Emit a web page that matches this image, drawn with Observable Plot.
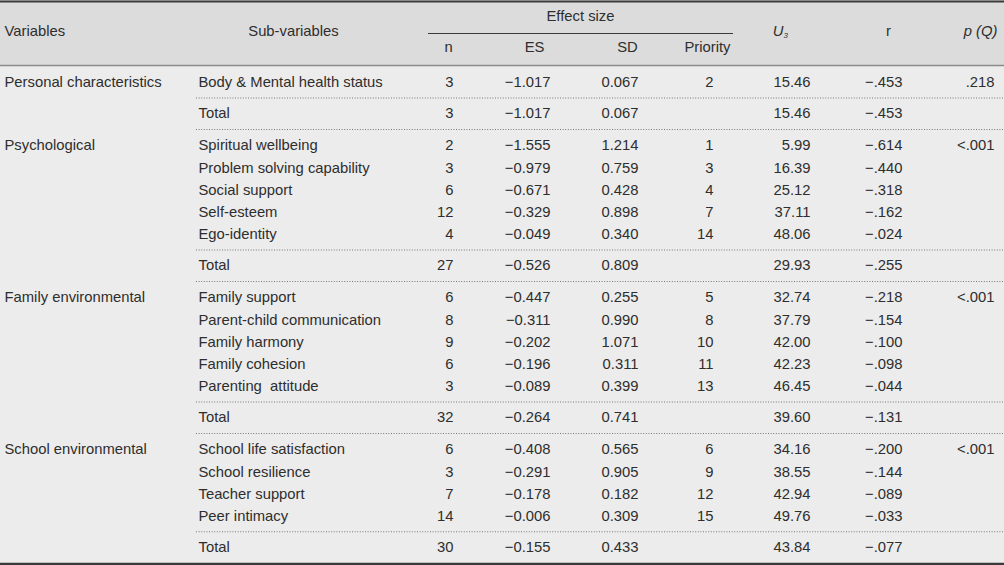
<!DOCTYPE html>
<html>
<head>
<meta charset="utf-8">
<script src="https://cdn.jsdelivr.net/npm/d3@7"></script>
<script src="https://cdn.jsdelivr.net/npm/@observablehq/plot@0.6"></script>
<style>
  html, body { margin: 0; padding: 0; background: #ececec; }
  svg { display: block; }
</style>
</head>
<body>
<div id="chart"></div>
<script>
// ---------- DATA ----------
const groups = ["Personal characteristics", "Psychological", "Family environmental", "School environmental"];
const groupP = [".218", "<.001", "<.001", "<.001"];
const subVariables = [
  "Body & Mental health status", "Total",
  "Spiritual wellbeing", "Problem solving capability", "Social support", "Self-esteem", "Ego-identity", "Total",
  "Family support", "Parent-child communication", "Family harmony", "Family cohesion", "Parenting  attitude", "Total",
  "School life satisfaction", "School resilience", "Teacher support", "Peer intimacy", "Total"
];
const rowGroup = [0,0, 1,1,1,1,1,1, 2,2,2,2,2,2, 3,3,3,3,3];
const nValues = [3,3, 2,3,6,12,4,27, 6,8,9,6,3,32, 6,3,7,14,30];
const esValues = [-1.017,-1.017, -1.555,-0.979,-0.671,-0.329,-0.049,-0.526, -0.447,-0.311,-0.202,-0.196,-0.089,-0.264, -0.408,-0.291,-0.178,-0.006,-0.155];
const sdValues = [0.067,0.067, 1.214,0.759,0.428,0.898,0.340,0.809, 0.255,0.990,1.071,0.311,0.399,0.741, 0.565,0.905,0.182,0.309,0.433];
const priorityValues = [2,null, 1,3,4,7,14,null, 5,8,10,11,13,null, 6,9,12,15,null];
const u3Values = [15.46,15.46, 5.99,16.39,25.12,37.11,48.06,29.93, 32.74,37.79,42.00,42.23,46.45,39.60, 34.16,38.55,42.94,49.76,43.84];
const rValues = [-0.453,-0.453, -0.614,-0.440,-0.318,-0.162,-0.024,-0.255, -0.218,-0.154,-0.100,-0.098,-0.044,-0.131, -0.200,-0.144,-0.089,-0.033,-0.077];
const headerTop = ["Effect size"];
const headerMain = ["Variables", "Sub-variables", "r"];
const headerSub = ["n", "ES", "SD", "Priority"];

// ---------- LAYOUT ----------
const W = 1004, H = 565;
const headerBottom = 65;
const firstRowY = 82, rowStep = 22.25, toTotal = 31, afterTotal = 32;
const col = {var: 4, sub: 198, n: 453, es: 550, sd: 638, pr: 713, u3: 810, r: 902, p: 994};
const headerMainX = [null, 293, 888];
const headerSubX = [448, 534, 627, 707];

// compute row y positions
const rowY = [];
let yy = firstRowY;
subVariables.forEach((s, i) => {
  if (i > 0) {
    if (s === "Total") yy += toTotal;
    else if (subVariables[i - 1] === "Total") yy += afterTotal;
    else yy += rowStep;
  }
  rowY.push(yy);
});

const minus = "\u2212";
const f3 = d3.format(".3f"), f2 = d3.format(".2f");
const fmtSigned = v => (v < 0 ? minus : "") + f3(Math.abs(v));
const fmtR = v => (v < 0 ? minus : "") + f3(Math.abs(v)).replace(/^0/, "");

const rows = subVariables.map((s, i) => ({
  sub: s, y: rowY[i], g: rowGroup[i],
  n: String(nValues[i]), es: fmtSigned(esValues[i]), sd: f3(sdValues[i]),
  pr: priorityValues[i] == null ? "" : String(priorityValues[i]),
  u3: f2(u3Values[i]), r: fmtR(rValues[i])
}));
const groupRows = groups.map((g, k) => {
  const i = rowGroup.indexOf(k);
  return {name: g, p: groupP[k], y: rowY[i]};
});
const dotted = [];
rows.forEach((r, i) => {
  if (r.sub === "Total") {
    dotted.push({y: (rows[i - 1].y + r.y) / 2});
    if (i < rows.length - 1) dotted.push({y: (r.y + rows[i + 1].y) / 2});
  }
});

const fontFamily = "'Liberation Sans', Arial, sans-serif";
const fs = 14.8;
const ink = "#2e2e2e";

const txt = (data, key, x, anchor, extra = {}) =>
  Plot.text(data, {x: () => x, y: "y", text: key, textAnchor: anchor, fill: ink, fontSize: fs, ...extra});

const chart = Plot.plot({
  width: W, height: H,
  margin: 0,
  x: {type: "linear", domain: [0, W], range: [0, W], axis: null},
  y: {type: "linear", domain: [0, H], range: [0, H], axis: null},
  style: {fontFamily, background: "#ececec"},
  marks: [
    Plot.rect([{}], {x1: 0, x2: W, y1: 0, y2: headerBottom, fill: "#dcdcdc"}),
    Plot.rect([{}], {x1: 0, x2: W, y1: headerBottom, y2: H, fill: "#ececec"}),
    Plot.ruleY([1], {stroke: "#3a3a3a", strokeWidth: 2}),
    Plot.ruleY([headerBottom], {stroke: "#8a8a8a", strokeWidth: 1.5}),
    Plot.ruleY([33], {x1: 428, x2: 733, stroke: "#3a3a3a", strokeWidth: 1.2}),
    Plot.ruleY([H - 1.5], {stroke: "#3a3a3a", strokeWidth: 2.5}),
    Plot.ruleY(dotted, {y: "y", x1: 196, x2: W, stroke: "#777", strokeWidth: 1, strokeDasharray: "1 1.6"}),
    // header text
    Plot.text([headerMain[0]], {x: () => col.var, y: () => 31, text: d => d, textAnchor: "start", fill: ink, fontSize: fs}),
    Plot.text(headerMain.slice(1), {x: (d, i) => headerMainX[i + 1], y: () => 31, text: d => d, textAnchor: "middle", fill: ink, fontSize: fs}),
    Plot.text(headerTop, {x: () => 580, y: () => 16, text: d => d, textAnchor: "middle", fill: ink, fontSize: fs}),
    Plot.text(headerSub, {x: (d, i) => headerSubX[i], y: () => 47, text: d => d, textAnchor: "middle", fill: ink, fontSize: fs}),
    Plot.text(["U"], {x: () => 783, y: () => 31, text: d => d, textAnchor: "end", fontStyle: "italic", fill: ink, fontSize: fs}),
    Plot.text(["3"], {x: () => 783, y: () => 35, text: d => d, textAnchor: "start", fontStyle: "italic", fill: ink, fontSize: 8}),
    Plot.text(["p (Q)"], {x: () => 997, y: () => 31, text: d => d, textAnchor: "end", fontStyle: "italic", fill: ink, fontSize: fs}),
    // group labels and p(Q)
    Plot.text(groupRows, {x: () => col.var, y: "y", text: "name", textAnchor: "start", fill: ink, fontSize: fs}),
    Plot.text(groupRows, {x: () => col.p, y: "y", text: "p", textAnchor: "end", fill: ink, fontSize: fs}),
    // body cells
    txt(rows, "sub", col.sub, "start"),
    txt(rows, "n", col.n, "end"),
    txt(rows, "es", col.es, "end"),
    txt(rows, "sd", col.sd, "end"),
    txt(rows, "pr", col.pr, "end"),
    txt(rows, "u3", col.u3, "end"),
    txt(rows, "r", col.r, "end")
  ]
});
document.getElementById("chart").appendChild(chart);
</script>
</body>
</html>
